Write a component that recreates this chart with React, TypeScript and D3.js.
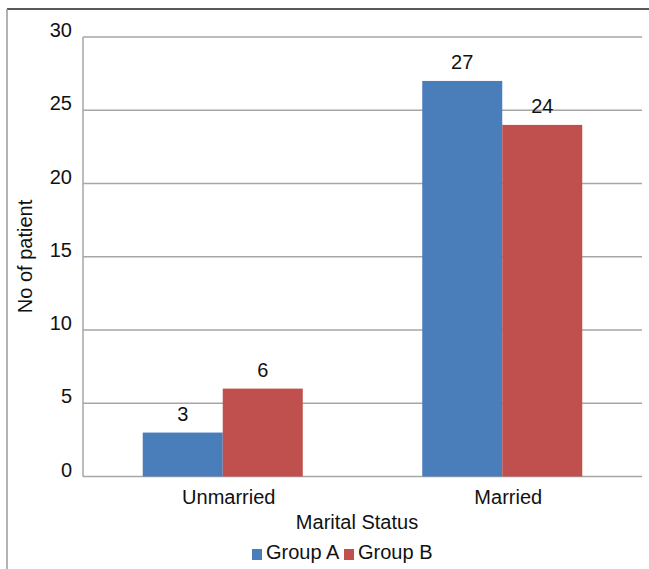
import React from "react";
import * as d3 from "d3";

const categories = ["Unmarried", "Married"];
const seriesNames = ["Group A", "Group B"];
const groupA = [3, 27];
const groupB = [6, 24];
const yTicks = [0, 5, 10, 15, 20, 25, 30];
const colors = ["#4a7ebb", "#c0504d"];

export default function App() {
  const W = 649, H = 569;
  const left = 83, right = 642, top = 37, bottom = 476.5;
  const y = d3.scaleLinear().domain([0, 30]).range([bottom, top]);
  const x0 = d3.scaleBand<string>().domain(categories).range([left, right]).paddingInner(0.4275).paddingOuter(0.21375);
  const x1 = d3.scaleBand<string>().domain(seriesNames).range([0, x0.bandwidth()]);
  const series = [groupA, groupB];
  const font = "'Liberation Sans', Arial, sans-serif";
  const fs = 20;
  return (
    <svg width={W} height={H} style={{ position: "absolute", left: 0, top: 0, background: "#fff" }} fontFamily={font}>
      <line x1={7} y1={9} x2={W} y2={9} stroke="#222" strokeWidth={1.5} />
      <line x1={7} y1={9} x2={7} y2={H} stroke="#999" strokeWidth={1.5} />
      {yTicks.map((t) => (
        <g key={t}>
          <line x1={left} x2={right} y1={y(t)} y2={y(t)} stroke="#a6a6a6" strokeWidth={1.5} />
          <text x={72} y={y(t)} textAnchor="end" fontSize={fs} fill="#111">{t}</text>
        </g>
      ))}
      <line x1={left} x2={left} y1={top} y2={bottom} stroke="#a6a6a6" strokeWidth={1.5} />
      {categories.map((c, ci) => (
        <g key={c}>
          {series.map((s, si) => {
            const bx = (x0(c) as number) + (x1(seriesNames[si]) as number);
            const bw = x1.bandwidth();
            return (
              <g key={si}>
                <rect x={bx} y={y(s[ci])} width={bw} height={y(0) - y(s[ci])} fill={colors[si]} />
                <text x={bx + bw / 2} y={y(s[ci]) - 12} textAnchor="middle" fontSize={fs} fill="#111">{s[ci]}</text>
              </g>
            );
          })}
          <text x={(x0(c) as number) + x0.bandwidth() / 2 + 6} y={504} textAnchor="middle" fontSize={fs} fill="#111">{c}</text>
        </g>
      ))}
      <text x={357} y={529} textAnchor="middle" fontSize={fs} fill="#111">Marital Status</text>
      <text transform={`translate(32,256.5) rotate(-90)`} textAnchor="middle" fontSize={fs} fill="#111">No of patient</text>
      {seriesNames.map((n, i) => {
        const lx = i === 0 ? 252 : 344;
        return (
          <g key={n}>
            <rect x={lx} y={549} width={10} height={11} fill={colors[i]} />
            <text x={lx + 14} y={559} fontSize={fs} fill="#111">{n}</text>
          </g>
        );
      })}
    </svg>
  );
}
